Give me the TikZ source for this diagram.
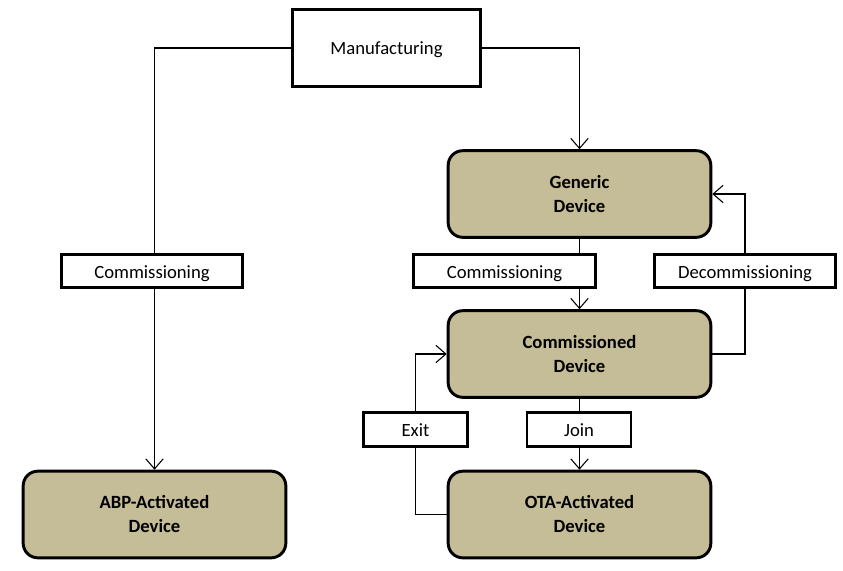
\documentclass[tikz,border=0pt]{standalone}
\usepackage{fontspec}
\setmainfont{Carlito}
\usetikzlibrary{arrows.meta}
\definecolor{tan}{HTML}{C4BD97}

\begin{document}
\begin{tikzpicture}[x=0.75pt, y=-0.75pt,
    state/.style={draw, line width=2.2pt, rounded corners=11pt, fill=tan,
        minimum width=197pt, minimum height=65pt, align=center,
        font=\fontsize{14}{18}\selectfont\bfseries},
    source/.style={draw, line width=2.2pt, fill=white,
        minimum width=141pt, minimum height=58pt, text height=13pt, text depth=3pt,
        font=\fontsize{14}{18}\selectfont},
    event/.style={draw, line width=2.2pt, fill=white,
        minimum width=136pt, minimum height=25pt, inner sep=0pt,
        text height=14pt, text depth=3pt, font=\fontsize{14}{18}\selectfont},
    shortevent/.style={event, minimum width=78pt},
    link/.style={line width=0.8pt, -{Straight Barb[length=7.5pt, width=13pt, line width=0.8pt]}}]
    \useasboundingbox (0,0) rectangle (843,571);

    % States
    \node[source] (mfg) at (386.5,48) {Manufacturing};
    \node[state] (generic) at (579.5,194) {Generic\\Device};
    \node[state] (commissioned) at (579.5,354) {Commissioned\\Device};
    \node[state] (ota) at (579.5,514.5) {OTA-Activated\\Device};
    \node[state] (abp) at (154.5,514.5) {ABP-Activated\\Device};

    % Transition labels (placed first as coordinates, drawn on top later)
    \coordinate (lblabp) at (152,271);
    \coordinate (lblcomm) at (504.5,271);
    \coordinate (lbldecomm) at (745,271);
    \coordinate (lblexit) at (415.5,429.5);
    \coordinate (lbljoin) at (579,429.5);

    % Transitions
    \draw[link] (mfg.west) -| (abp.north);
    \draw[link] (mfg.east) -| (generic.north);
    \draw[link] (generic) -- (commissioned);
    \draw[link] (commissioned.east) -| (lbldecomm) |- (generic.east);
    \draw[link] (commissioned) -- (ota);
    \draw[link] (ota.west) -| (lblexit) |- (commissioned.west);

    % Labels
    \node[event] (abpcomm) at (lblabp) {Commissioning};
    \node[event] (comm) at (lblcomm) {Commissioning};
    \node[event] (decomm) at (lbldecomm) {Decommissioning};
    \node[shortevent] (exit) at (lblexit) {Exit};
    \node[shortevent] (join) at (lbljoin) {Join};

\end{tikzpicture}
\end{document}
